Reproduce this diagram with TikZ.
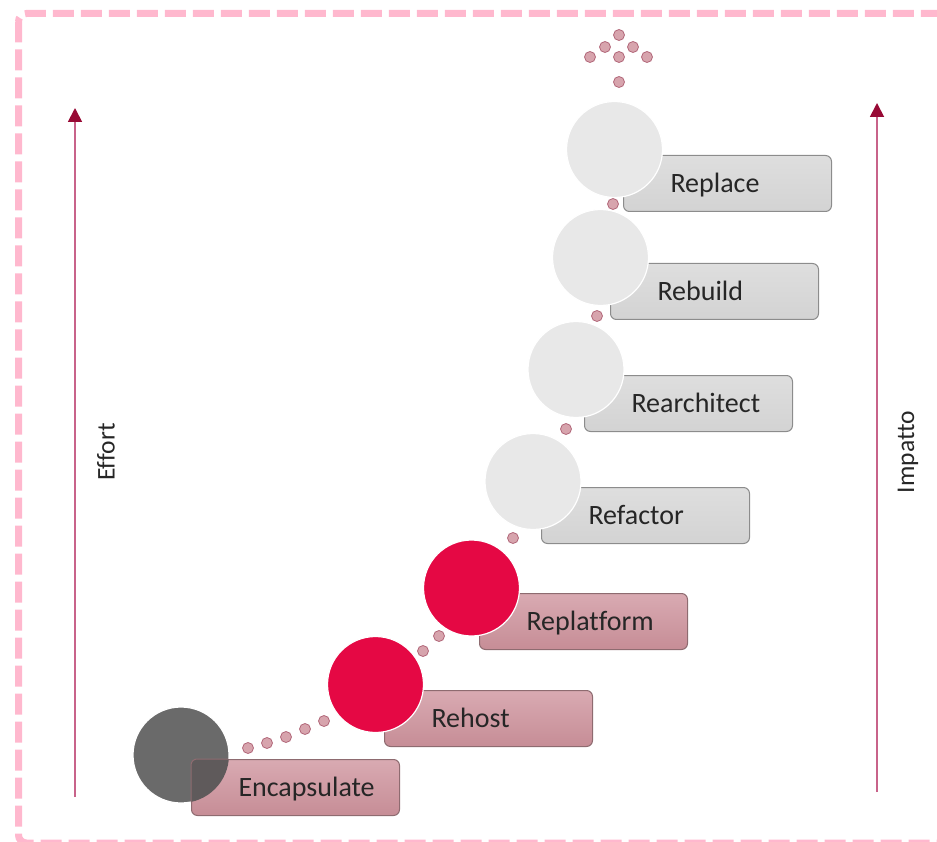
\documentclass[tikz,border=0pt]{standalone}
\usepackage{fontspec}
\setmainfont{Carlito}[Ligatures=NoCommon]
\usetikzlibrary{arrows.meta}

\definecolor{frame}{HTML}{FFB8CE}
\definecolor{axisline}{HTML}{C8638A}
\definecolor{axishead}{HTML}{980A35}
\definecolor{pinktop}{HTML}{D9AAB2}
\definecolor{pinkbot}{HTML}{C68D96}
\definecolor{pinkline}{HTML}{8E6B70}
\definecolor{graytop}{HTML}{DEDEDE}
\definecolor{graybot}{HTML}{D3D3D3}
\definecolor{grayline}{HTML}{8C8C8C}
\definecolor{capgray}{HTML}{6A6A6A}
\definecolor{capover}{HTML}{5F5A5B}
\definecolor{hotred}{HTML}{E50844}
\definecolor{palegray}{HTML}{E8E8E8}
\definecolor{dotfill}{HTML}{D7A4AD}
\definecolor{dotline}{HTML}{B2687A}
\definecolor{textdark}{HTML}{262626}

\begin{document}
\begin{tikzpicture}[x=1pt,y=-1pt,
    ball/.style={circle,minimum size=96pt,inner sep=0pt,draw=white,line width=1.2pt},
    stage/.style={rounded corners=6pt,line width=1pt,minimum height=56pt,text width=208pt,
        inner xsep=0pt,align=left,anchor=north west,text=textdark,text depth=1pt,
        font=\fontsize{28}{32}\selectfont,execute at begin node={\hspace*{47pt}}},
    pinkstage/.style={stage,draw=pinkline,top color=pinktop,bottom color=pinkbot},
    graystage/.style={stage,draw=grayline,top color=graytop,bottom color=graybot},
    dot/.style={circle,minimum size=11pt,inner sep=0pt,fill=dotfill,draw=dotline,line width=0.8pt},
    axis/.style={draw=axisline,line width=1.8pt,-{Triangle[width=14pt,length=14pt,color=axishead]}},
    axislabel/.style={rotate=90,text=textdark,font=\fontsize{25.5}{30}\selectfont}]
    \useasboundingbox (0,0) rectangle (937,842);

    % dashed frame, open on the right
    \draw[frame,line width=7pt,dash pattern=on 21pt off 7pt,rounded corners=8pt]
        (18.5,13.5) rectangle (990,843);

    % axes
    \coordinate (effbot) at (75,797);
    \coordinate (efftop) at (75,108);
    \coordinate (impbot) at (877,792);
    \coordinate (imptop) at (877,103);
    \draw[axis] (effbot) -- (efftop);
    \draw[axis] (impbot) -- (imptop);
    \node[axislabel] (effort) at (106,452) {Effort};
    \node[axislabel] (impatto) at (908,452) {Impatto};

    % steps
    \node[pinkstage] (rehost) at (384,690) {Rehost};
    \node[pinkstage] (replat) at (479,593) {Replatform};
    \node[graystage] (refac) at (541,487) {Refactor};
    \node[graystage] (rearch) at (584,375) {Rearchitect};
    \node[graystage] (rebuild) at (610,263) {Rebuild};
    \node[graystage] (replace) at (623,155) {Replace};

    \node[ball,fill=capgray] (b1) at (181,755) {};
    \node[pinkstage] (encap) at (191,759) {Encapsulate};
    \begin{scope}
        \clip (b1.center) circle (48pt);
        \filldraw[fill=capover,draw=pinkline,line width=1pt,rounded corners=6pt]
            (encap.north west) rectangle (encap.south east);
    \end{scope}

    \node[ball,fill=hotred] (b2) at (375.5,684.5) {};
    \node[ball,fill=hotred] (b3) at (471.5,588) {};
    \node[ball,fill=palegray] (b4) at (533,481.5) {};
    \node[ball,fill=palegray] (b5) at (576,369.5) {};
    \node[ball,fill=palegray] (b6) at (600.5,257.5) {};
    \node[ball,fill=palegray] (b7) at (614.5,149.5) {};

    % dotted trail
    \foreach \p in {(248,748),(267,743),(286,737),(305,729),(324,721),
                    (423,651),(439,636),(513,538),(566,429),(597,316),(613,204)}
        \node[dot] at \p {};

    % dotted arrow on top
    \foreach \p in {(619,35),(605,47),(633,47),(590,57),(619,57),(647,57),(619,82)}
        \node[dot] at \p {};
\end{tikzpicture}
\end{document}
